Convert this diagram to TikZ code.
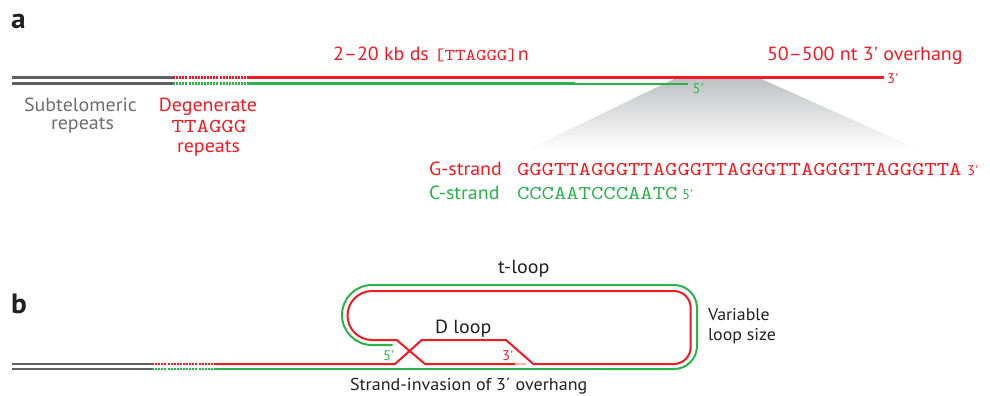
\documentclass[tikz,border=0pt]{standalone}
\usepackage{fontspec}
\setmainfont{PT Sans}[Ligatures=TeXOff,FakeStretch=1.05]
\newfontfamily\seqfont{lmmono10-regular.otf}[Ligatures=TeXOff,FakeStretch=1.2]
\definecolor{tred}{HTML}{ED1C24}
\definecolor{tgreen}{HTML}{2AB34B}
\definecolor{tgray}{HTML}{5F6062}
\definecolor{ttext}{HTML}{6D6E71}
\definecolor{tblack}{HTML}{231F20}
\definecolor{tpink}{HTML}{F8B9A4}
\definecolor{wedgetop}{HTML}{BEBFC1}
\definecolor{wedgemid}{HTML}{E3E4E5}
\begin{document}
\begin{tikzpicture}[x=1pt,y=-1pt,
  txt/.style={inner sep=0pt,outer sep=0pt,anchor=base west},
  ctxt/.style={inner sep=0pt,outer sep=0pt,anchor=base},
  fa/.style={font=\fontsize{19}{22}\selectfont},
  fb/.style={font=\fontsize{19}{22}\selectfont},
  fc/.style={font=\fontsize{17}{20}\selectfont},
  fs/.style={font=\fontsize{14}{16}\selectfont},
  fseq/.style={font=\seqfont\fontsize{19.6}{22}\selectfont},
  flab/.style={font=\fontsize{28}{30}\selectfont\bfseries,text=tblack},
  sa/.style={line width=2.7pt},
  sb/.style={line width=2pt},
  dots/.style={dash pattern=on 2pt off 1.1pt}]
\useasboundingbox (0,0) rectangle (990,396);
\fill[white] (0,0) rectangle (990,396);
% ---------- panel a ----------
\coordinate (wTL) at (678,77);
\coordinate (wTR) at (757,77);
\coordinate (wBR) at (920,150);
\coordinate (wBL) at (527,150);
\shade[top color=wedgetop, middle color=wedgemid, bottom color=white]
  (wTL) -- (wTR) -- (wBR) -- (wBL) -- cycle;
\coordinate (aT0) at (12,77.3);
\coordinate (aT1) at (173,77.3);
\coordinate (aT2) at (248,77.3);
\coordinate (aT3) at (884,77.3);
\coordinate (aB0) at (12,83.7);
\coordinate (aB1) at (173,83.7);
\coordinate (aB2) at (248,83.7);
\coordinate (aB3) at (575,83.7);
\coordinate (aB4) at (688,83.7);
\draw[sa,tgray] (aT0) -- (aT1);
\draw[sa,tgray] (aB0) -- (aB1);
\draw[sa,tred,dots] (aT1) -- (aT2);
\draw[sa,tgreen,dots] (aB1) -- (aB2);
\draw[sa,tred] (aT2) -- (aT3);
\draw[sa,tgreen] (aB2) -- (aB3);
\draw[line width=2.2pt,tgreen] (aB3) -- (aB4);
\node[txt,flab] (la) at (11,29) {a};
\node[txt,fa,text=tred] (h1) at (333,60.7) {2–20 kb ds {\seqfont\fontsize{16.6}{18}\selectfont[TTAGGG]}n};
\node[txt,fa,text=tred] (h2) at (767,61) {50–500 nt 3' overhang};
\node[txt,fs,text=tred] (a3p) at (887,83.3) {3'};
\node[txt,fs,text=tgreen] (a5p) at (692.7,93) {5'};
\node[ctxt,fa,text=ttext] (sub1) at (80.5,111.7) {Subtelomeric};
\node[ctxt,fa,text=ttext] (sub2) at (82.5,129) {repeats};
\node[ctxt,fa,text=tred] (deg1) at (208,111) {Degenerate};
\node[ctxt,text=tred,font=\seqfont\fontsize{19.8}{22}\selectfont] (deg2) at (209,132.7) {TTAGGG};
\node[ctxt,fa,text=tred] (deg3) at (208.5,152) {repeats};
\node[txt,fa,text=tred] (gs) at (429,175) {G-strand};
\node[txt,fa,text=tgreen] (cs) at (429,199) {C-strand};
\node[txt,fseq,text=tred] (gseq) at (517,175) {GGGTTAGGGTTAGGGTTAGGGTTAGGGTTAGGGTTA};
\node[txt,fseq,text=tgreen] (cseq) at (517,199) {CCCAATCCCAATC};
\node[txt,fs,text=tred] (g3p) at (967,175) {3'};
\node[txt,fs,text=tgreen] (c5p) at (682,199) {5'};
% ---------- panel b ----------
\node[txt,flab] (lb) at (11,313) {b};
\coordinate (bT0) at (12,364);
\coordinate (bT1) at (152,364);
\coordinate (bT2) at (215,364);
\coordinate (bB0) at (12,369);
\coordinate (bB1) at (152,369);
\coordinate (bB2) at (215,369);
\draw[sb,tgray] (bT0) -- (bT1);
\draw[sb,tgray] (bB0) -- (bB1);
\draw[sb,tred,dots] (bT1) -- (bT2);
\draw[sb,tgreen,dots] (bB1) -- (bB2);
% red strand
\coordinate (r1) at (395,364);
\coordinate (r2) at (421.7,340);
\coordinate (r3) at (506,340);
\coordinate (r4) at (533.3,364);
\coordinate (r5) at (600,364);
\coordinate (rc1) at (690.7,364);
\coordinate (rc2) at (690.7,291);
\coordinate (r6) at (600,291);
\coordinate (rc3) at (347.5,291);
\coordinate (rc4) at (347.5,340);
\coordinate (r7) at (380,340);
\coordinate (r8) at (396.7,340);
\coordinate (r9) at (425,364);
\coordinate (r10) at (515,364);
\coordinate (r11) at (526,364);
\draw[sb,tred] (bT2) -- (r1) -- (r2) -- (r3) -- (r4) -- (r5);
\draw[sb,tred,rounded corners=17pt] (r5) -- (rc1) -- (rc2) -- (r6);
\draw[sb,tred,rounded corners=24.5pt] (r6) -- (rc3) -- (rc4) -- (r7);
\draw[sb,tred] (r7) -- (r8) -- (r9) -- (r10);
\draw[sb,tpink] (r10) -- (r11);
% green strand
\coordinate (g1) at (600,369);
\coordinate (gc1) at (697,369);
\coordinate (gc2) at (697,285);
\coordinate (g2) at (600,285);
\coordinate (gc3) at (342,285);
\coordinate (gc4) at (342,345);
\coordinate (g3) at (392.7,345);
\draw[sb,tgreen] (bB2) -- (g1);
\draw[sb,tgreen,rounded corners=23pt] (g1) -- (gc1) -- (gc2) -- (g2);
\draw[sb,tgreen,rounded corners=30pt] (g2) -- (gc3) -- (gc4) -- (g3);
\node[txt,fs,text=tgreen] (b5p) at (383,360) {5'};
\node[txt,fs,text=tred] (b3p) at (502,360) {3'};
\node[txt,fb,text=tblack] (tl) at (498,273) {t-loop};
\node[txt,fb,text=tblack] (dl) at (435,333.5) {D loop};
\node[txt,fc,text=tblack] (vl1) at (708,320.5) {Variable};
\node[txt,fc,text=tblack] (vl2) at (708,340.5) {loop size};
\node[txt,font=\fontsize{17.2}{20}\selectfont,text=tblack] (si) at (350,390) {Strand-invasion of 3´ overhang};
\end{tikzpicture}
\end{document}
